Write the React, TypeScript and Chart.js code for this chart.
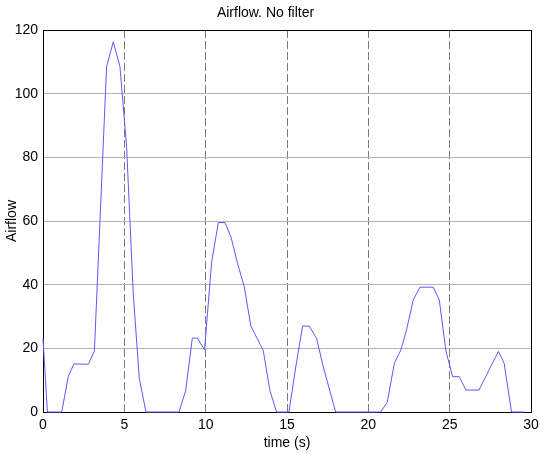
import React, { useEffect, useRef } from "react";
import { Chart, registerables } from "chart.js";

Chart.register(...registerables);

const timeValues = [
  0, 0.27, 1.15, 1.56, 1.9, 2.79, 3.16, 3.91, 4.32, 4.73, 5.14, 5.55, 5.92, 6.33,
  8.36, 8.77, 9.18, 9.49, 9.93, 10.37, 10.78, 11.19, 11.56, 11.96, 12.37, 12.78,
  13.54, 13.95, 14.36, 15.12, 15.55, 15.96, 16.37, 16.82, 17.23, 17.99, 20.75,
  21.16, 21.6, 22.0, 22.35, 22.76, 23.17, 23.99, 24.36, 24.77, 25.18, 25.59, 26.0,
  26.8, 27.2, 27.6, 28.0, 28.35, 28.8, 29.6,
];
const airflowValues = [
  23, 0, 0, 11.3, 15.1, 15, 19.2, 108.5, 116.3, 108.5, 83.3, 37, 10.6, 0,
  0, 6.7, 23.2, 23.2, 19.5, 47.2, 59.5, 59.5, 54.9, 46.7, 39.4, 27,
  19.3, 6.7, 0, 0, 14.5, 27, 27, 23.1, 14.2, 0, 0,
  3, 15.3, 19.5, 25.8, 35.2, 39.2, 39.2, 35.2, 19.2, 11.1, 11.1, 6.9,
  6.9, 10.9, 15.1, 19, 15.3, 0, 0,
];
const xTicks = [0, 5, 10, 15, 20, 25, 30];
const yTicks = [0, 20, 40, 60, 80, 100, 120];

const FONT = "Arial, 'Liberation Sans', sans-serif";

const framePlugin = {
  id: "frame",
  beforeDatasetsDraw(chart: any) {
    const { ctx, chartArea } = chart;
    ctx.save();
    ctx.strokeStyle = "#000";
    ctx.lineWidth = 1;
    ctx.setLineDash([]);
    const l = Math.round(chartArea.left) + 0.5;
    const r = Math.round(chartArea.right) + 0.5;
    const t = Math.round(chartArea.top) + 0.5;
    const b = Math.round(chartArea.bottom) + 0.5;
    ctx.strokeRect(l, t, r - l, b - t);
    ctx.restore();
  },
};

export default function App() {
  const ref = useRef<HTMLCanvasElement | null>(null);
  useEffect(() => {
    if (!ref.current) return;
    const data = timeValues.map((x, i) => ({ x, y: airflowValues[i] }));
    const chart = new Chart(ref.current, {
      type: "scatter",
      data: {
        datasets: [
          {
            data,
            showLine: true,
            borderColor: "#5a5aff",
            borderWidth: 1,
            pointRadius: 0,
            tension: 0,
            clip: 2,
          },
        ],
      },
      options: {
        animation: false,
        responsive: false,
        maintainAspectRatio: false,
        layout: { padding: { left: 0, right: 19, top: 0, bottom: 0 } },
        plugins: {
          legend: { display: false },
          tooltip: { enabled: false },
          title: {
            display: true,
            text: "Airflow. No filter",
            color: "#000",
            font: { family: FONT, size: 14, weight: "normal", lineHeight: 1.2 },
            padding: { top: 4.6, bottom: 8.6 },
          },
        },
        scales: {
          x: {
            type: "linear",
            min: 0,
            max: 30,
            afterBuildTicks: (s: any) => {
              s.ticks = xTicks.map((v) => ({ value: v }));
            },
            afterFit: (s: any) => {
              s.height = 42;
            },
            ticks: {
              color: "#000",
              font: { family: FONT, size: 14 },
              padding: 5,
              maxRotation: 0,
            },
            grid: {
              color: "#7a7a7a",
              drawTicks: false,
              lineWidth: 1,
            },
            border: { color: "#000", dash: [8, 3] },
            title: {
              display: true,
              text: "time (s)",
              color: "#000",
              font: { family: FONT, size: 14, lineHeight: 1.2 },
              padding: { top: 0, bottom: 2.6 },
            },
          },
          y: {
            type: "linear",
            min: 0,
            max: 120,
            afterBuildTicks: (s: any) => {
              s.ticks = yTicks.map((v) => ({ value: v }));
            },
            afterFit: (s: any) => {
              s.width = 43;
            },
            ticks: {
              color: "#000",
              font: { family: FONT, size: 14 },
              padding: 5,
            },
            grid: {
              color: "#b4b4b4",
              drawTicks: false,
              lineWidth: 1,
            },
            border: { color: "#000" },
            title: {
              display: true,
              text: "Airflow",
              color: "#000",
              font: { family: FONT, size: 14, lineHeight: 1.2 },
              padding: { top: 3.6, bottom: 0 },
            },
          },
        },
      },
      plugins: [framePlugin],
    });
    return () => chart.destroy();
  }, []);
  return (
    <div style={{ position: "absolute", left: 0, top: 0, width: 550, height: 454, background: "#fff" }}>
      <canvas ref={ref} width={550} height={454} style={{ width: 550, height: 454 }} />
    </div>
  );
}
